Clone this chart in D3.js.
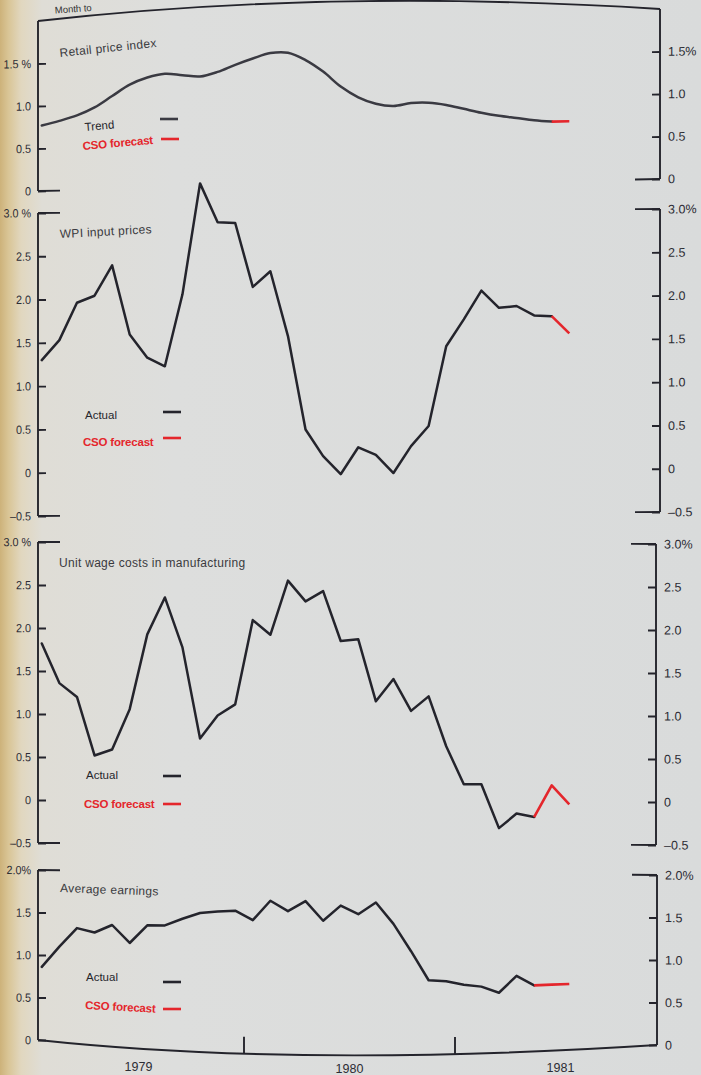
<!DOCTYPE html>
<html><head><meta charset="utf-8">
<script src="https://cdn.jsdelivr.net/npm/d3@7"></script>
<style>
html,body{margin:0;padding:0;background:#dcdddc;}
svg{display:block;}
text{font-family:"Liberation Sans",Arial,sans-serif;}
</style></head><body>
<svg id="chart" width="701" height="1075"></svg>
<script>
// ---------- data (monthly, index 0 = Jan 1979) ----------
const years = ["1979", "1980", "1981"];
const monthsPerYear = 12;

const rpiTrend = [0.77,0.82,0.88,0.97,1.10,1.23,1.31,1.35,1.33,1.31,1.36,1.44,1.51,1.57,1.57,1.48,1.34,1.16,1.03,0.95,0.92,0.95,0.95,0.92,0.87,0.82,0.78,0.75,0.72,0.70];
const rpiForecast = [0.70,0.70];           // from month 29
const wpiActual = [1.30,1.53,1.96,2.04,2.39,1.59,1.32,1.22,2.05,3.33,2.88,2.87,2.13,2.31,1.56,0.48,0.17,-0.04,0.27,0.18,-0.03,0.28,0.51,1.43,1.74,2.07,1.87,1.89,1.78,1.77];
const wpiForecast = [1.77,1.57];           // from month 29
const uwcActual = [1.82,1.36,1.20,0.52,0.59,1.06,1.93,2.36,1.78,0.72,0.99,1.12,2.10,1.93,2.56,2.32,2.44,1.86,1.88,1.16,1.42,1.05,1.22,0.64,0.20,0.20,-0.31,-0.14,-0.18];
const uwcForecast = [-0.18,0.19,-0.03];    // from month 28
const aeActual = [0.86,1.10,1.32,1.27,1.36,1.15,1.36,1.36,1.44,1.51,1.53,1.54,1.43,1.66,1.54,1.66,1.43,1.61,1.51,1.65,1.40,1.08,0.74,0.73,0.69,0.67,0.60,0.80,0.69];
const aeForecast = [0.69,0.70,0.71];       // from month 28

const ticks2 = [0, 0.5, 1.0, 1.5, 2.0];
const ticksRpi = [0, 0.5, 1.0, 1.5];
const ticks3 = [-0.5, 0, 0.5, 1.0, 1.5, 2.0, 2.5, 3.0];

// ---------- layout ----------
const svg = d3.select("#chart");
const W = 701, H = 1075;
const LX = 38;
const INK = "#24242c", RED = "#e4262c";

// background paper
const defs = svg.append("defs");
const grad = defs.append("linearGradient").attr("id", "paper").attr("x1", 0).attr("x2", 1).attr("y1", 0).attr("y2", 0);
[[0, "#cdb27a"], [0.012, "#d9c596"], [0.03, "#e1d7bf"], [0.06, "#dfddd6"], [0.25, "#dddedd"], [1, "#d9dbdb"]]
  .forEach(([o, c]) => grad.append("stop").attr("offset", o).attr("stop-color", c));
svg.append("rect").attr("width", W).attr("height", H).attr("fill", "url(#paper)");

const x = d3.scaleLinear().domain([0, 36]).range([33, 666]);
const mx = i => x(i + 0.5);

const panels = [
  {title: "Retail price index", actual: rpiTrend, forecast: rpiForecast, fStart: 29, label: "Trend",
   domain: [0, 2], range: [191, 21], rx: 660, skew: -12, ticks: ticksRpi, pct: 1.5, leftSpace: true,
   stubs: {lt: false, lb: true, rt: false, rb: true}, curve: d3.curveCatmullRom.alpha(0.5), lineColor: "#3a3a42",
   titlePos: [60, 57, -6], leg1: [85, 131, -5], leg2: [83, 150, -5], legLine1: [160, 119], legLine2: [161, 139]},
  {title: "WPI input prices", actual: wpiActual, forecast: wpiForecast, fStart: 29, label: "Actual",
   domain: [-0.5, 3], range: [516, 213], rx: 660, skew: -4, ticks: ticks3, pct: 3.0, leftSpace: true,
   stubs: {lt: true, lb: true, rt: true, rb: true}, curve: d3.curveLinear, lineColor: INK,
   titlePos: [60, 238, -3], leg1: [85, 419, 0], leg2: [83, 446, 0], legLine1: [163, 412], legLine2: [163, 438]},
  {title: "Unit wage costs in manufacturing", actual: uwcActual, forecast: uwcForecast, fStart: 28, label: "Actual",
   domain: [-0.5, 3], range: [843, 542], rx: 656, skew: 2, ticks: ticks3, pct: 3.0, leftSpace: true,
   stubs: {lt: true, lb: true, rt: true, rb: true}, curve: d3.curveLinear, lineColor: INK,
   titlePos: [59, 567, 0], leg1: [86, 779, 0], leg2: [84, 808, 0], legLine1: [163, 776], legLine2: [163, 804]},
  {title: "Average earnings", actual: aeActual, forecast: aeForecast, fStart: 28, label: "Actual",
   domain: [0, 2], range: [1040, 870], rx: 657, skew: 5, ticks: ticks2, pct: 2.0, leftSpace: false,
   stubs: {lt: true, lb: false, rt: true, rb: false}, curve: d3.curveLinear, lineColor: INK,
   titlePos: [60, 892, 2], leg1: [86, 981, 0], leg2: [85, 1009, 3], legLine1: [163, 982], legLine2: [163, 1009]}
];

function fmt(v, pct, space) {
  if (v === 0) return "0";
  let s = Math.abs(v).toFixed(1);
  if (v < 0) s = "\u2013" + s;
  if (v === pct) s += space ? " %" : "%";
  return s;
}

panels.forEach(p => {
  const y = d3.scaleLinear().domain(p.domain).range(p.range);
  const k = p.skew / (p.rx - LX);
  const g = svg.append("g").attr("transform", `matrix(1,${k},0,1,0,${-k * LX})`);

  // frame verticals and stubs
  const yTop = y(p.domain[1]), yBot = y(p.domain[0]);
  const frame = g.append("g").attr("stroke", INK).attr("stroke-width", 1.9).attr("fill", "none");
  frame.append("line").attr("x1", LX).attr("x2", LX).attr("y1", yTop).attr("y2", yBot);
  frame.append("line").attr("x1", p.rx).attr("x2", p.rx).attr("y1", yTop).attr("y2", yBot);
  if (p.stubs.lt) frame.append("line").attr("x1", LX).attr("x2", LX + 22).attr("y1", yTop).attr("y2", yTop);
  if (p.stubs.lb) frame.append("line").attr("x1", LX).attr("x2", LX + 22).attr("y1", yBot).attr("y2", yBot);
  if (p.stubs.rt) frame.append("line").attr("x1", p.rx - 25).attr("x2", p.rx).attr("y1", yTop).attr("y2", yTop);
  if (p.stubs.rb) frame.append("line").attr("x1", p.rx - 25).attr("x2", p.rx).attr("y1", yBot).attr("y2", yBot);

  // axes
  const left = d3.axisLeft(y).tickValues(p.ticks).tickSizeInner(-8).tickSizeOuter(0).tickPadding(7)
    .tickFormat(v => fmt(v, p.pct, p.leftSpace));
  const right = d3.axisRight(y).tickValues(p.ticks).tickSizeInner(-8).tickSizeOuter(0).tickPadding(8)
    .tickFormat(v => fmt(v, p.pct, false));
  const ga = g.append("g").attr("transform", `translate(${LX},0)`).call(left);
  const gb = g.append("g").attr("transform", `translate(${p.rx},0)`).call(right);
  [ga, gb].forEach(a => {
    a.select(".domain").remove();
    a.selectAll(".tick line").attr("stroke", INK).attr("stroke-width", 1.9);
    a.selectAll(".tick text").attr("fill", "#2c2c34").style("font-family", "'Liberation Sans',Arial,sans-serif");
  });
  ga.selectAll(".tick text").style("font-size", "12px").attr("transform", "scale(0.9,1)")
    .attr("x", -7 / 0.9);
  gb.selectAll(".tick text").style("font-size", "12.5px");

  // data lines
  const line = d3.line().x(d => d.x).y(d => y(d.v)).curve(p.curve);
  const act = p.actual.map((v, i) => ({x: mx(i), v}));
  const fc = p.forecast.map((v, i) => ({x: mx(p.fStart + i), v}));
  g.append("path").attr("d", line(act)).attr("fill", "none").attr("stroke", p.lineColor)
    .attr("stroke-width", 2.5).attr("stroke-linejoin", "round").attr("stroke-linecap", "round");
  g.append("path").attr("d", line(fc)).attr("fill", "none").attr("stroke", RED)
    .attr("stroke-width", 2.6).attr("stroke-linejoin", "round");

  // title + legend (raw page coordinates)
  const t = svg.append("g");
  const [tx, ty, tr] = p.titlePos;
  t.append("text").attr("x", tx).attr("y", ty).attr("transform", `rotate(${tr},${tx},${ty})`)
    .attr("fill", "#3a3a3e").style("font-size", "12px").style("letter-spacing", "0.3px").text(p.title);
  const [l1x, l1y, l1r] = p.leg1, [l2x, l2y, l2r] = p.leg2;
  t.append("text").attr("x", l1x).attr("y", l1y).attr("transform", `rotate(${l1r},${l1x},${l1y})`)
    .attr("fill", "#26262c").style("font-size", "11.5px").text(p.label);
  t.append("text").attr("x", l2x).attr("y", l2y).attr("transform", `rotate(${l2r},${l2x},${l2y})`)
    .attr("fill", RED).style("font-size", "11.5px").style("font-weight", "bold").style("letter-spacing", "-0.2px").text("CSO forecast");
  t.append("line").attr("x1", p.legLine1[0]).attr("x2", p.legLine1[0] + 18).attr("y1", p.legLine1[1]).attr("y2", p.legLine1[1])
    .attr("stroke", p.lineColor).attr("stroke-width", 2.6);
  t.append("line").attr("x1", p.legLine2[0]).attr("x2", p.legLine2[0] + 18).attr("y1", p.legLine2[1]).attr("y2", p.legLine2[1])
    .attr("stroke", RED).attr("stroke-width", 2.6);
});

// top frame (curled page edge) and caption fragment
svg.append("path").attr("d", "M38,21 Q330,-12 660,9").attr("fill", "none").attr("stroke", INK).attr("stroke-width", 1.9);
svg.append("text").attr("x", 55).attr("y", 13.5).attr("transform", "rotate(-4,55,13.5)")
  .attr("fill", "#333").style("font-size", "9.5px").text("Month to");

// bottom time axis (curved)
const P0 = [38, 1040], P1 = [300, 1068], P2 = [657, 1045];
const bez = (t, j) => (1 - t) * (1 - t) * P0[j] + 2 * (1 - t) * t * P1[j] + t * t * P2[j];
function curveY(px) {
  let lo = 0, hi = 1;
  for (let n = 0; n < 40; n++) { const m = (lo + hi) / 2; if (bez(m, 0) < px) lo = m; else hi = m; }
  return bez((lo + hi) / 2, 1);
}
svg.append("path").attr("d", `M${P0}Q${P1} ${P2}`).attr("fill", "none").attr("stroke", INK).attr("stroke-width", 1.9);
[1, 2].forEach(yi => {
  const tx = x(yi * monthsPerYear), cy = curveY(tx);
  svg.append("line").attr("x1", tx).attr("x2", tx).attr("y1", cy - 17).attr("y2", cy)
    .attr("stroke", INK).attr("stroke-width", 1.9);
});
years.forEach((yr, i) => {
  const cx = x(i * monthsPerYear + monthsPerYear / 2);
  svg.append("text").attr("x", cx).attr("y", Math.min(curveY(cx) + 22, 1073)).attr("text-anchor", "middle")
    .attr("fill", "#2c2c34").style("font-size", "12.5px").text(yr);
});
</script>
</body></html>
